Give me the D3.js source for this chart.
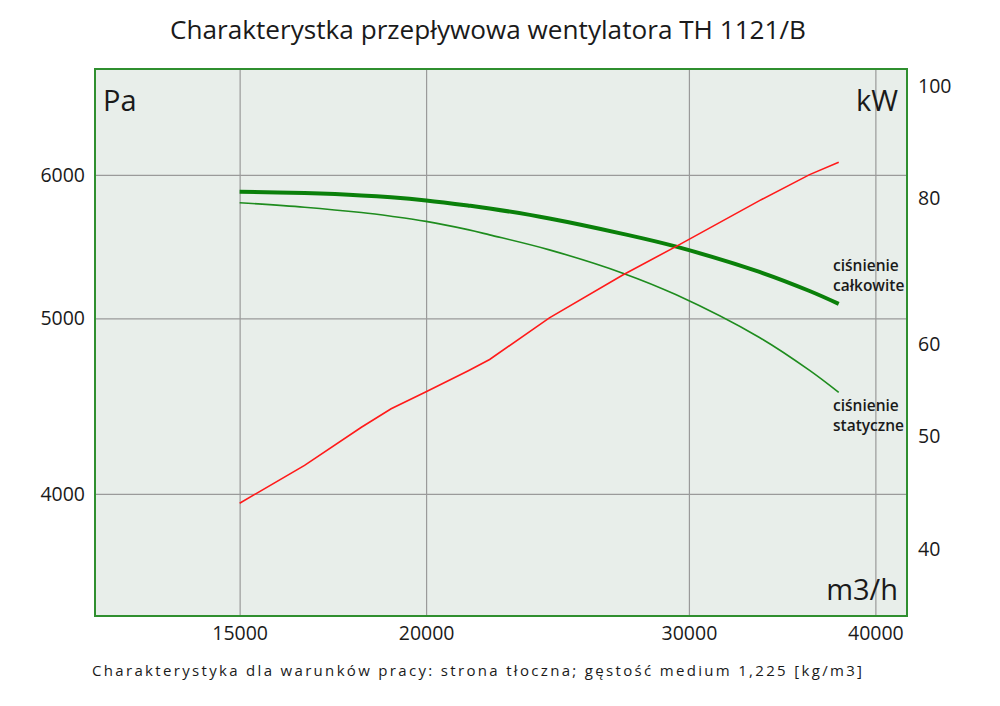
<!DOCTYPE html>
<html>
<head>
<meta charset="utf-8">
<script src="https://cdn.jsdelivr.net/npm/d3@7"></script>
<style>
  html, body { margin: 0; padding: 0; background: #ffffff; }
  svg { display: block; }
  text { font-family: "Open Sans", "Noto Sans", sans-serif; fill: #1a1a1a; }
</style>
</head>
<body>
<svg id="chart" width="1000" height="706"></svg>
<script>
// ---- data ----
const titleText = "Charakterystka przepływowa wentylatora TH 1121/B";
const subtitleText = "Charakterystyka dla warunków pracy: strona tłoczna; gęstość medium 1,225 [kg/m3]";

const flow = [15000, 16580, 18100, 18950, 20000, 21330, 22060, 24190, 27090, 29420, 33450, 36140, 37800];
const totalPressure = [5874, 5863, 5846, 5832, 5809, 5772, 5750, 5677, 5567, 5477, 5304, 5177, 5093];
const staticPressure = [5792, 5759, 5720, 5693, 5656, 5597, 5560, 5455, 5296, 5152, 4880, 4680, 4551];
const power = [43.8, 47.2, 50.9, 52.8, 54.6, 56.9, 58.2, 63.2, 68.8, 72.8, 79.7, 83.9, 86.0];

const xTicks = [15000, 20000, 30000, 40000];
const leftTicks = [4000, 5000, 6000];
const rightTicks = [40, 50, 60, 80, 100];

const xDomain = [12000, 42000];
const leftDomain = [3425, 6865];
const rightDomain = [35.04, 103.4];

// ---- layout ----
const svg = d3.select("#chart");
const L = 95, T = 69, R = 907, B = 616;
const W = R - L, H = B - T;

const x = d3.scaleLog().domain(xDomain).range([L, R]);
const yL = d3.scaleLog().domain(leftDomain).range([B, T]);
const yR = d3.scaleLog().domain(rightDomain).range([B, T]);

// plot background
svg.append("rect").attr("x", L).attr("y", T).attr("width", W).attr("height", H)
  .attr("fill", "#e8eeea");

// grid
const gx = svg.append("g").attr("transform", `translate(0,${B})`)
  .call(d3.axisBottom(x).tickValues(xTicks).tickSize(-H).tickFormat(""));
const gy = svg.append("g").attr("transform", `translate(${L},0)`)
  .call(d3.axisLeft(yL).tickValues(leftTicks).tickSize(-W).tickFormat(""));
[gx, gy].forEach(g => {
  g.select(".domain").remove();
  g.selectAll(".tick line").attr("stroke", "#9a9a9a").attr("stroke-width", 1.2);
});

// curves
const pts = flow.map((f, i) => ({ f, tp: totalPressure[i], sp: staticPressure[i], p: power[i] }));
const lineTP = d3.line().x(d => x(d.f)).y(d => yL(d.tp)).curve(d3.curveCatmullRom.alpha(0.5));
const lineSP = d3.line().x(d => x(d.f)).y(d => yL(d.sp)).curve(d3.curveCatmullRom.alpha(0.5));
const lineP = d3.line().x(d => x(d.f)).y(d => yR(d.p)).curve(d3.curveLinear);

svg.append("path").datum(pts).attr("d", lineSP).attr("fill", "none")
  .attr("stroke", "#1e8c1e").attr("stroke-width", 1.6);
svg.append("path").datum(pts).attr("d", lineTP).attr("fill", "none")
  .attr("stroke", "#0a800a").attr("stroke-width", 4);
svg.append("path").datum(pts).attr("d", lineP).attr("fill", "none")
  .attr("stroke", "#ff1a1a").attr("stroke-width", 1.6);

// border
svg.append("rect").attr("x", L).attr("y", T).attr("width", W).attr("height", H)
  .attr("fill", "none").attr("stroke", "#2f8f2f").attr("stroke-width", 2);

// axes labels
const ax = svg.append("g").attr("transform", `translate(0,${B})`)
  .call(d3.axisBottom(x).tickValues(xTicks).tickSize(0).tickPadding(10).tickFormat(d3.format("d")));
const al = svg.append("g").attr("transform", `translate(${L},0)`)
  .call(d3.axisLeft(yL).tickValues(leftTicks).tickSize(0).tickPadding(10).tickFormat(d3.format("d")));
const ar = svg.append("g").attr("transform", `translate(${R},0)`)
  .call(d3.axisRight(yR).tickValues(rightTicks).tickSize(0).tickPadding(11).tickFormat(d3.format("d")));
[ax, al, ar].forEach(g => {
  g.select(".domain").remove();
  g.selectAll("text").attr("font-family", "'Open Sans', 'Noto Sans', sans-serif")
    .attr("font-size", 19.5).attr("fill", "#1a1a1a");
});

// unit labels
svg.append("text").attr("x", 103).attr("y", 111).attr("font-size", 29).text("Pa");
svg.append("text").attr("x", 898).attr("y", 111).attr("font-size", 29).attr("text-anchor", "end").text("kW");
svg.append("text").attr("x", 898).attr("y", 600).attr("font-size", 29).attr("text-anchor", "end").text("m3/h");

// curve labels
const lab = (t, yy) => svg.append("text").attr("x", 833).attr("y", yy)
  .attr("font-size", 15.5).attr("font-weight", 600).text(t);
lab("ciśnienie", 271);
lab("całkowite", 291);
lab("ciśnienie", 411);
lab("statyczne", 431);

// title & subtitle
svg.append("text").attr("x", 170).attr("y", 39).attr("font-size", 25)
  .attr("textLength", 636).attr("lengthAdjust", "spacingAndGlyphs").text(titleText);
svg.append("text").attr("x", 92).attr("y", 676).attr("font-size", 15)
  .attr("textLength", 770).attr("lengthAdjust", "spacing").text(subtitleText);
</script>
</body>
</html>
